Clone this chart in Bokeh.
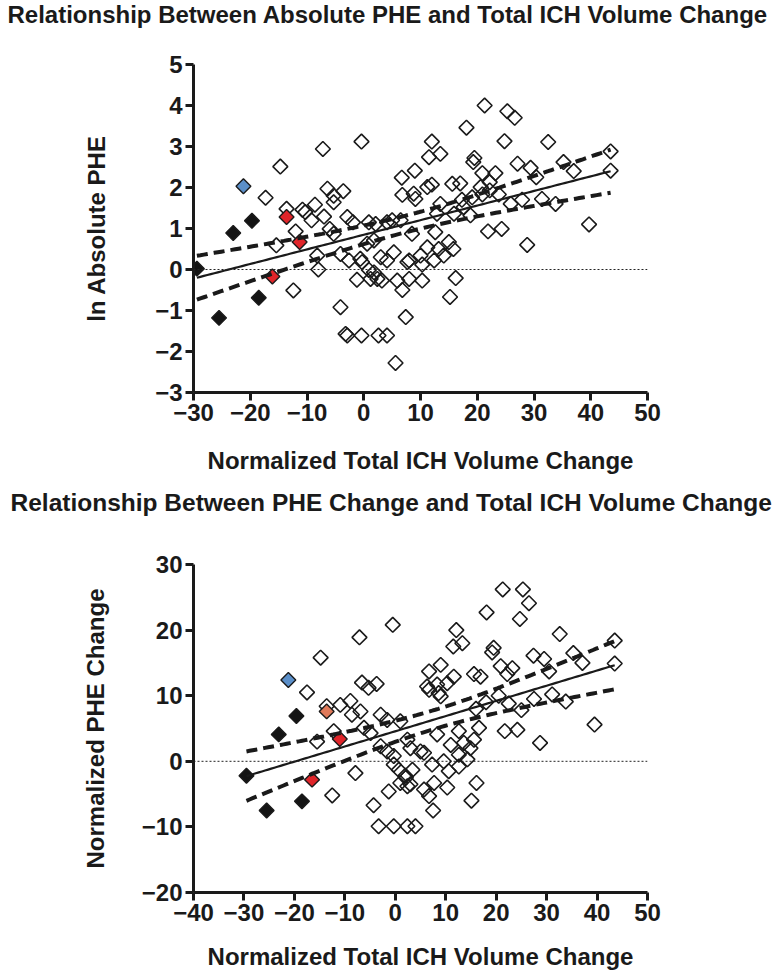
import numpy as np
from bokeh.plotting import figure
from bokeh.models import Range1d, Span, FixedTicker
from bokeh.layouts import column
from bokeh.embed import file_html
from bokeh.resources import INLINE

FONT = "Liberation Sans"

# ---------------- Top chart: ln Absolute PHE vs normalized ICH volume change
top_open_x = [-17.3, -14.7, -7.2, -0.4, -13.6, -12.0, -10.8, -10.3, -8.6, -9.2, -7.0, -6.4, -5.3, -5.3, -3.6,
              -6.0, -2.9, -1.9, 0.9, 2.1, 6.7, 6.8, 9.0, -15.4, -12.4, -8.0, -8.2, -5.3, -4.1, -3.2, -2.9,
              -0.4, 2.6, 4.1, 5.6, -4.1, -2.6, -1.2, -0.6, -0.3, 0.9, 1.8, 1.2, 2.4, 3.2, 0.6, 1.8, 3.0,
              4.1, 5.3, 5.9, 6.8, 7.4, 7.7, 4.1, 5.0, 6.5, 39.7, 28.8, 21.9, 24.3, 16.2, 15.2, 15.0, 15.8,
              14.1, 13.2, 11.2, 10.0, 12.4, 8.0, 10.3, 8.0, 10.3, 12.6, 8.5, 21.3, 25.3, 26.6, 18.1, 24.8,
              32.5, 12.0, 13.5, 11.5, 11.2, 12.0, 8.8, 9.1, 19.5, 19.3, 20.9, 23.2, 22.2, 27.1, 29.4, 30.4,
              35.2, 37.0, 43.5, 43.5, 15.6, 17.0, 20.6, 22.2, 17.3, 19.1, 20.9, 23.8, 25.9, 27.9, 31.4, 33.8,
              15.9, 17.6, 18.8, 13.5, 12.9]
top_open_y = [1.75, 2.51, 2.94, 3.12, 1.48, 0.93, 1.46, 1.40, 1.58, 1.20, 1.29, 1.97, 1.80, 1.64, 1.91,
              0.99, 1.28, 1.15, 1.15, 1.11, 2.24, 1.82, 2.41, 0.59, -0.51, 0.00, 0.34, 0.87, -0.92, -1.57, -1.61,
              -1.61, -1.61, -1.61, -2.28, 0.38, 0.22, -0.25, 0.26, 0.18, -0.01, -0.07, -0.23, -0.23, -0.27, 0.63, 0.71, 0.30,
              0.22, 0.42, -0.27, -0.50, -1.16, 0.18, 1.15, 1.20, 1.20, 1.10, 0.60, 0.93, 0.99, -0.21, -0.67, 0.67, 0.50,
              0.34, 0.50, 0.54, 0.34, 0.22, 0.22, 0.12, -0.23, -0.27, 0.91, 0.87, 4.00, 3.86, 3.70, 3.46, 3.13,
              3.11, 3.12, 2.82, 2.74, 2.01, 2.07, 1.85, 1.72, 2.72, 2.62, 2.35, 2.35, 2.13, 2.58, 2.48, 2.25,
              2.62, 2.40, 2.88, 2.41, 2.09, 2.10, 2.01, 1.93, 1.70, 1.76, 1.83, 1.83, 1.60, 1.70, 1.72, 1.60,
              1.36, 1.52, 1.32, 1.60, 1.36]
top_black_x = [-29.4, -25.5, -23.0, -19.7, -18.5]
top_black_y = [0.02, -1.18, 0.89, 1.19, -0.69]
top_blue_x = [-21.2]
top_blue_y = [2.03]
top_red_x = [-13.6, -16.1, -11.3]
top_red_y = [1.28, -0.17, 0.67]

top_xticks = [-30, -20, -10, 0, 10, 20, 30, 40, 50]
top_yticks = [-3, -2, -1, 0, 1, 2, 3, 4, 5]

# ---------------- Bottom chart: normalized PHE change vs normalized ICH volume change
bot_open_x = [-14.8, -7.1, -0.5, -17.5, -6.6, -5.3, -3.7, -13.6, -15.5, -12.5, -12.2, -10.9, -8.9, -8.6, -6.9,
              -7.9, -4.3, -1.3, -3.3, -0.3, 2.4, 4.0, -2.9, -1.6, -6.2, -4.9, 1.0, -2.9, -1.6, -0.3, -0.3,
              0.7, 2.0, 1.0, 2.4, 2.4, 39.5, 28.7, 21.7, 24.2, 16.1, 15.1, 7.5, 5.7, 6.7, 7.7, 10.3, 3.4,
              2.1, 3.0, 10.6, 12.6, 14.3, 7.3, 9.6, 12.6, 5.0, 5.7, 3.0, 11.0, 13.6, 14.9, 15.6, 12.6, 16.6,
              8.3, 9.0, 6.7, 33.8, 31.1, 21.3, 25.3, 26.5, 18.1, 24.7, 32.6, 12.1, 13.3, 11.5, 43.5, 43.5,
              35.3, 37.1, 27.4, 29.5, 30.5, 19.5, 19.2, 20.9, 23.2, 22.2, 6.7, 9.0, 11.6, 10.3, 8.3, 6.3,
              8.6, 15.6, 16.9, 20.5, 22.5, 25.0, 27.5, 18.0, 16.0]
bot_open_y = [15.8, 18.9, 20.8, 10.5, 12.0, 11.2, 11.8, 8.4, 3.0, -5.2, 4.6, 8.6, 9.2, 7.1, 7.6,
              -1.8, -6.7, -4.6, -9.9, -9.9, -9.9, -9.9, 7.1, 6.3, 5.1, 4.3, 6.1, 2.3, 1.5, 0.8, -0.5,
              -1.3, -2.2, -3.3, -3.8, 3.3, 5.6, 2.8, 4.6, 4.8, -3.3, -6.0, -7.5, -4.3, -5.3, -3.3, -4.0, -1.3,
              -2.5, -3.5, -1.5, -0.8, 0.3, -0.5, 0.0, 1.0, 1.5, 1.3, 2.0, 2.5, 2.8, 2.0, 3.3, 4.6, 5.1,
              4.1, 9.9, 10.9, 9.1, 10.2, 26.2, 26.2, 24.1, 22.7, 21.7, 19.4, 20.0, 18.0, 17.5, 18.4, 14.9,
              16.5, 15.0, 16.1, 15.6, 13.7, 17.3, 16.6, 14.5, 14.2, 13.3, 13.7, 14.7, 12.9, 11.9, 11.7, 11.4,
              10.4, 13.3, 12.9, 10.0, 8.8, 7.8, 9.5, 9.0, 8.0]
bot_black_x = [-29.5, -25.5, -23.1, -19.6, -18.5]
bot_black_y = [-2.2, -7.5, 4.1, 6.9, -6.1]
bot_blue_x = [-21.2]
bot_blue_y = [12.4]
bot_salmon_x = [-13.6]
bot_salmon_y = [7.6]
bot_red_x = [-16.5, -11.0]
bot_red_y = [-2.8, 3.4]

bot_xticks = [-40, -30, -20, -10, 0, 10, 20, 30, 40, 50]
bot_yticks = [-20, -10, 0, 10, 20, 30]

title_top = "Relationship Between Absolute PHE and Total ICH Volume Change"
title_bot = "Relationship Between PHE Change and Total ICH Volume Change"
xlabel = "Normalized Total ICH Volume Change"
ylabel_top = "ln Absolute PHE"
ylabel_bot = "Normalized PHE Change"

FRAME_W, FRAME_H = 454, 328
LEFT, RIGHT = 193, 128
PAGE_W = LEFT + FRAME_W + RIGHT


def fit_with_band(xs_all, ys_all, n_pts=120, t=1.98):
    x = np.asarray(xs_all, float)
    y = np.asarray(ys_all, float)
    n = len(x)
    b, a = np.polyfit(x, y, 1)
    resid = y - (a + b * x)
    s = np.sqrt(np.sum(resid ** 2) / (n - 2))
    xm = x.mean()
    sxx = np.sum((x - xm) ** 2)
    xs = np.linspace(x.min(), x.max(), n_pts)
    yhat = a + b * xs
    hw = t * s * np.sqrt(1.0 / n + (xs - xm) ** 2 / sxx)
    return xs, yhat, yhat - hw, yhat + hw


def make_title(text, height, pad, text_left, size):
    # thin strip whose title carries the chart heading; its frame is aligned
    # with the chart below, so the heading is offset from the frame's left edge
    t = figure(frame_width=FRAME_W, height=height, min_border_left=LEFT, min_border_right=RIGHT,
               min_border_top=0, min_border_bottom=0,
               x_range=Range1d(0, 1), y_range=Range1d(0, 1),
               output_backend="svg", toolbar_location=None, title=text)
    t.axis.visible = False
    t.grid.grid_line_color = None
    t.outline_line_color = None
    t.title.align = "left"
    t.title.offset = text_left - LEFT
    t.title.vertical_align = "top"
    t.title.standoff = pad
    t.title.text_font = FONT
    t.title.text_font_style = "bold"
    t.title.text_font_size = size
    t.title.text_color = "#1a1a1a"
    return t


def make_chart(ylabel, xr, yr, xticks, yticks, groups, top_border, bottom_border,
               ylab_standoff, xlab_standoff):
    p = figure(frame_width=FRAME_W, frame_height=FRAME_H, min_border_left=LEFT, min_border_right=RIGHT,
               min_border_top=top_border, min_border_bottom=bottom_border,
               x_range=Range1d(*xr), y_range=Range1d(*yr),
               output_backend="svg", toolbar_location=None)
    p.outline_line_color = None
    p.grid.grid_line_color = None
    p.background_fill_color = "white"
    p.border_fill_color = "white"

    for ax in (p.xaxis[0], p.yaxis[0]):
        ax.axis_line_width = 3
        ax.axis_line_color = "#1a1a1a"
        ax.major_tick_line_width = 3
        ax.major_tick_line_color = "#1a1a1a"
        ax.major_tick_out = 8
        ax.major_tick_in = 0
        ax.minor_tick_line_color = None
        ax.major_label_text_font = FONT
        ax.major_label_text_font_style = "bold"
        ax.major_label_text_font_size = "24px"
        ax.major_label_text_color = "#1a1a1a"
        ax.axis_label_text_font = FONT
        ax.axis_label_text_font_style = "bold"
        ax.axis_label_text_font_size = "24px"
        ax.axis_label_text_color = "#1a1a1a"
        ax.major_label_standoff = 3
    p.xaxis.ticker = FixedTicker(ticks=xticks)
    p.yaxis.ticker = FixedTicker(ticks=yticks)
    p.xaxis.axis_label = xlabel
    p.yaxis.axis_label = ylabel
    p.yaxis.axis_label_standoff = ylab_standoff
    p.xaxis.axis_label_standoff = xlab_standoff

    p.add_layout(Span(location=0, dimension="width", line_color="#222222",
                      line_width=1, line_dash="2 2"))

    all_x, all_y = [], []
    for gx, gy, fill in groups:
        all_x += list(gx)
        all_y += list(gy)

    for gx, gy, fill in groups:
        if fill is None:
            p.scatter(gx, gy, marker="square", size=10.5, angle=np.pi / 4,
                      fill_alpha=0, line_color="#1a1a1a", line_width=1.6)

    xs, yhat, lo, hi = fit_with_band(all_x, all_y)

    for gx, gy, fill in groups:
        if fill is not None:
            p.scatter(gx, gy, marker="square", size=10.5, angle=np.pi / 4,
                      fill_color=fill, line_color="#1a1a1a", line_width=1.4)

    p.line(xs, yhat, line_color="#1a1a1a", line_width=2.2)
    p.line(xs, lo, line_color="#1a1a1a", line_width=4, line_dash="11 6")
    p.line(xs, hi, line_color="#1a1a1a", line_width=4, line_dash="11 6")
    return p


t_top = make_title(title_top, 34, 0, 7, "24px")
top = make_chart(ylabel_top, (-30, 50), (-3, 5), top_xticks, top_yticks,
                 [(top_open_x, top_open_y, None),
                  (top_black_x, top_black_y, "#141414"),
                  (top_blue_x, top_blue_y, "#5b8fc9"),
                  (top_red_x, top_red_y, "#e0252a")],
                 top_border=30, bottom_border=92, ylab_standoff=42, xlab_standoff=23)

t_bot = make_title(title_bot, 38, 8, 10, "24.5px")
bot = make_chart(ylabel_bot, (-40, 50), (-20, 30), bot_xticks, bot_yticks,
                 [(bot_open_x, bot_open_y, None),
                  (bot_black_x, bot_black_y, "#141414"),
                  (bot_blue_x, bot_blue_y, "#5b8fc9"),
                  (bot_salmon_x, bot_salmon_y, "#e07a5a"),
                  (bot_red_x, bot_red_y, "#e0252a")],
                 top_border=42, bottom_border=78, ylab_standoff=30, xlab_standoff=19)

layout = column(t_top, top, t_bot, bot, spacing=0)
open("out.html", "w").write(file_html(layout, INLINE))
